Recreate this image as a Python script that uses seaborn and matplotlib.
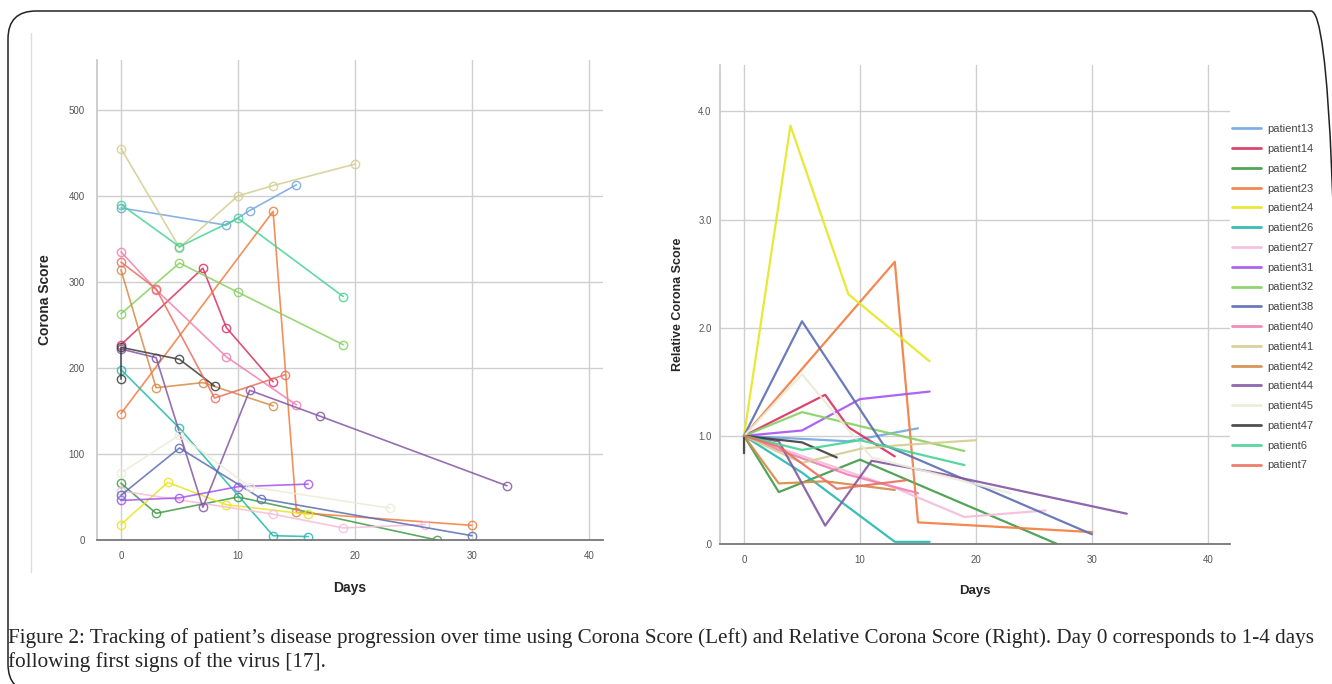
import matplotlib
matplotlib.use("Agg")
import matplotlib.pyplot as plt
import seaborn as sns
import pandas as pd
from matplotlib.patches import FancyBboxPatch
from matplotlib.lines import Line2D
from matplotlib.transforms import IdentityTransform

# patients in legend order
patients = ["patient13", "patient14", "patient2", "patient23", "patient24", "patient26",
            "patient27", "patient31", "patient32", "patient38", "patient40", "patient41",
            "patient42", "patient44", "patient45", "patient47", "patient6", "patient7"]

colors = ["#72a6e0", "#d9305f", "#3f9a45", "#f27b3d", "#e6e620", "#22b8ad",
          "#f5bcd8", "#a552f2", "#86d160", "#5b6db3", "#f07fb2", "#d3cd92",
          "#d58a45", "#8356a3", "#ecebd8", "#3d3d3d", "#45d394", "#ea6f5e"]

# days of each measurement, per patient (same order as patients)
days = [[0, 9, 11, 15], [0, 7, 9, 13], [0, 3, 10, 27], [0, 13, 15, 30],
        [0, 4, 9, 16], [0, 5, 13, 16], [0, 13, 19, 26], [0, 5, 10, 16],
        [0, 5, 10, 19], [0, 5, 12, 30], [0, 3, 9, 15], [0, 5, 10, 13, 20],
        [0, 3, 7, 13], [0, 3, 7, 11, 17, 33], [0, 5, 11, 23], [0, 0, 5, 8],
        [0, 5, 10, 19], [0, 3, 8, 14]]

# corona score (left panel)
scores = [[386, 366, 383, 413], [227, 316, 247, 184], [66, 31, 50, 0], [147, 382, 32, 17],
          [18, 67, 41, 30], [198, 130, 5, 4], [57, 30, 14, 18], [46, 49, 62, 65],
          [263, 322, 288, 227], [52, 107, 48, 5], [335, 291, 213, 157], [455, 340, 400, 412, 437],
          [314, 177, 183, 156], [222, 212, 38, 174, 144, 63], [78, 122, 62, 37], [187, 224, 210, 179],
          [390, 341, 374, 283], [323, 292, 165, 192]]

# relative corona score (right panel)
relative = [[1, 0.95, 0.99, 1.07], [1, 1.38, 1.08, 0.81], [1, 0.48, 0.78, 0], [1, 2.61, 0.2, 0.11],
            [1, 3.87, 2.31, 1.69], [1, 0.66, 0.02, 0.02], [1, 0.52, 0.25, 0.31], [1, 1.05, 1.34, 1.41],
            [1, 1.22, 1.09, 0.86], [1, 2.06, 0.92, 0.09], [1, 0.87, 0.64, 0.47], [1, 0.75, 0.88, 0.91, 0.96],
            [1, 0.56, 0.58, 0.5], [1, 0.95, 0.17, 0.77, 0.65, 0.28], [1, 1.57, 0.8, 0.47], [0.84, 1, 0.94, 0.8],
            [1, 0.87, 0.96, 0.73], [1, 0.9, 0.51, 0.59]]

left_yticks = [0, 100, 200, 300, 400, 500]
right_yticks = [0, 1, 2, 3, 4]
right_ytick_labels = [".0", "1.0", "2.0", "3.0", "4.0"]
xticks = [0, 10, 20, 30, 40]

caption1 = ("Figure 2: Tracking of patient\u2019s disease progression over time using Corona Score "
            "(Left) and Relative Corona Score (Right). Day 0 corresponds to 1-4 days")
caption2 = "following first signs of the virus [17]."

rows = []
for p, d, s, r in zip(patients, days, scores, relative):
    for i in range(len(d)):
        rows.append({"patient": p, "day": d[i], "score": s[i], "relative": r[i]})
df = pd.DataFrame(rows)
palette = dict(zip(patients, colors))

sns.set_theme(style="white")
plt.rcParams["font.family"] = ["Liberation Sans", "DejaVu Sans"]

W, H = 1332, 684
fig = plt.figure(figsize=(W / 100, H / 100), dpi=100)
fig.patch.set_facecolor("white")


def px_axes(x0, x1, ytop, ybot):
    return fig.add_axes([x0 / W, 1 - ybot / H, (x1 - x0) / W, (ybot - ytop) / H])


ax1 = px_axes(97, 603, 60, 540)
ax2 = px_axes(720, 1230, 65, 544)

# left panel
sns.lineplot(data=df, x="day", y="score", hue="patient", hue_order=patients, palette=palette,
             estimator=None, sort=False, marker="o", markersize=6, linewidth=1.2,
             alpha=0.85, legend=False, ax=ax1)
for ln in ax1.lines:
    ln.set_markerfacecolor("none")
    ln.set_markeredgecolor(ln.get_color())
    ln.set_markeredgewidth(1.0)

# right panel
sns.lineplot(data=df, x="day", y="relative", hue="patient", hue_order=patients, palette=palette,
             estimator=None, sort=False, linewidth=1.6, alpha=0.9, ax=ax2)

for ax in (ax1, ax2):
    ax.set_xticks(xticks)
    ax.grid(True, color="#cfcfcf", linewidth=1.0)
    ax.set_axisbelow(True)
    for side in ("top", "right"):
        ax.spines[side].set_visible(False)
    ax.spines["left"].set_color("#c8c8c8")
    ax.spines["bottom"].set_color("#777777")
    ax.spines["bottom"].set_linewidth(1.3)
    ax.tick_params(length=0, labelsize=7, colors="#555555")
    ax.tick_params(axis="x", pad=8)

ax1.set_xlim(-2.05, 41.2)
ax1.set_ylim(0, 558)
ax1.set_yticks(left_yticks)
ax1.tick_params(axis="y", pad=9)
ax1.set_xlabel("Days", fontsize=10, fontweight="bold", labelpad=14)
ax1.set_ylabel("Corona Score", fontsize=10, fontweight="bold", labelpad=12)

ax2.set_xlim(-2.07, 41.9)
ax2.set_ylim(0, 4.43)
ax2.set_yticks(right_yticks)
ax2.set_yticklabels(right_ytick_labels)
ax2.tick_params(axis="y", pad=6)
ax2.set_xlabel("Days", fontsize=9.5, fontweight="bold", labelpad=14)
ax2.set_ylabel("Relative Corona Score", fontsize=9, fontweight="bold", labelpad=10)

sns.move_legend(ax2, "upper left", bbox_to_anchor=(1.0, 0.881), frameon=False, title=None,
                fontsize=8, handlelength=2.6, labelspacing=0.88, handletextpad=0.6,
                borderaxespad=0, borderpad=0.2)
for t in ax2.get_legend().get_texts():
    t.set_color("#444444")
for h in ax2.get_legend().legend_handles:
    h.set_linewidth(2.0)

# faint panel edge line on the left
fig.add_artist(Line2D([31 / W, 31 / W], [1 - 33 / H, 1 - 572 / H], color="#dddddd", lw=1.0))

# caption
fig.text(8 / W, 1 - 643 / H, caption1, family=["Liberation Serif", "DejaVu Serif"],
         fontsize=15.2, va="baseline", ha="left")
fig.text(8 / W, 1 - 667 / H, caption2, family=["Liberation Serif", "DejaVu Serif"],
         fontsize=15.2, va="baseline", ha="left")

# rounded border, right and bottom edges run off the canvas
box = FancyBboxPatch((8, -8), 1331, 681, boxstyle="round,pad=0,rounding_size=28",
                     transform=IdentityTransform(), fill=False, ec="#222222", lw=1.1)
fig.patches.append(box)

fig.savefig("out.png", dpi=100)
